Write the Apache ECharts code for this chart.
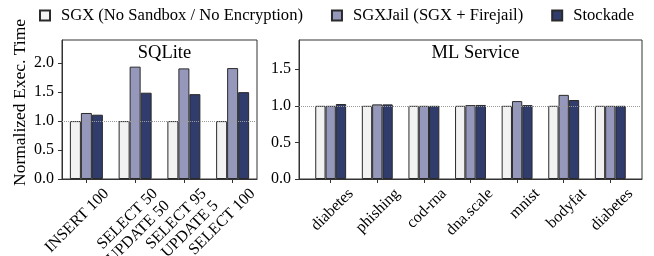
<!DOCTYPE html>
<html><head><meta charset="utf-8">
<script src="https://cdn.jsdelivr.net/npm/echarts@6/dist/echarts.min.js"></script>
<style>html,body{margin:0;padding:0;background:#fff}#c{width:654px;height:256px}</style>
</head><body><div id="c"></div>
<script>
const sqlCategories = ['INSERT 100', 'SELECT 50\nUPDATE 50', 'SELECT 95\nUPDATE 5', 'SELECT 100'];
const sqlSGX = [1.0, 1.0, 1.0, 1.0];
const sqlJail = [1.14, 1.94, 1.91, 1.915];
const sqlStockade = [1.11, 1.49, 1.465, 1.5];

const mlCategories = ['diabetes', 'phishing', 'cod-rna', 'dna.scale', 'mnist', 'bodyfat', 'diabetes'];
const mlSGX = [1.0, 1.0, 1.0, 1.0, 1.0, 1.0, 1.0];
const mlJail = [1.0, 1.02, 1.0, 1.01, 1.065, 1.15, 1.0];
const mlStockade = [1.025, 1.02, 1.0, 1.012, 1.01, 1.08, 1.0];

const sqlYTicks = [0, 0.5, 1.0, 1.5, 2.0];
const mlYTicks = [0, 0.5, 1.0, 1.5];

const seriesNames = ['SGX (No Sandbox / No Encryption)', 'SGXJail (SGX + Firejail)', 'Stockade'];
const colors = ['#f2f2f2', '#9598bb', '#2f3c6c'];

const FONT = 'Liberation Serif';
const chart = echarts.init(document.getElementById('c'), null, {renderer: 'canvas'});

const mlIdx = mlCategories.map((_, i) => i);
const pair = arr => arr.map((v, i) => [i, v]);

function yAxis(gi, max, ticks, withName) {
  return {
    type: 'value', gridIndex: gi, min: 0, max: max,
    name: withName ? 'Normalized Exec. Time' : '',
    nameLocation: 'middle', nameGap: 33,
    nameTextStyle: {fontFamily: FONT, fontSize: 17.5, color: '#000', padding: [0, 0, 0, 14]},
    axisLine: {show: true, onZero: false, lineStyle: {color: '#333'}},
    axisTick: {show: true, length: 4, customValues: ticks, lineStyle: {color: '#333'}},
    axisLabel: {customValues: ticks, formatter: v => v.toFixed(1), fontFamily: FONT, fontSize: 16, color: '#000', margin: 8},
    splitLine: {show: false}
  };
}
const xLabel = {rotate: 45, interval: 0, fontFamily: FONT, fontSize: 16, color: '#000',
  margin: 2, lineHeight: 17, verticalAlign: 'top', padding: [13, -7, 0, 0]};
const xAxes = [
  {
    type: 'category', gridIndex: 0, data: sqlCategories,
    axisLine: {show: true, onZero: false, lineStyle: {color: '#333'}},
    axisTick: {show: true, alignWithLabel: true, length: 4, lineStyle: {color: '#333'}},
    axisLabel: xLabel
  },
  {
    type: 'value', gridIndex: 1, min: -0.68, max: mlCategories.length - 1 + 0.68,
    axisLine: {show: true, onZero: false, lineStyle: {color: '#333'}},
    axisTick: {show: true, length: 4, customValues: mlIdx, lineStyle: {color: '#333'}},
    axisLabel: Object.assign({}, xLabel, {customValues: mlIdx, formatter: v => mlCategories[Math.round(v)]}),
    splitLine: {show: false}
  }
];
function bar(name, data, xi, color, bw, mark) {
  const s = {
    name: name, type: 'bar', xAxisIndex: xi, yAxisIndex: xi, data: data,
    barWidth: bw, barGap: '0%',
    itemStyle: {color: color, borderColor: '#2a2a2a', borderWidth: 1},
    emphasis: {disabled: true}, animation: false
  };
  if (mark) {
    s.markLine = {silent: true, symbol: 'none', label: {show: false},
      lineStyle: {type: 'dotted', color: '#999', width: 1}, data: [{yAxis: 1}]};
  }
  return s;
}

chart.setOption({
  animation: false,
  legend: {
    top: 2, left: 34, itemWidth: 10, itemHeight: 10, itemGap: 28,
    icon: 'rect',
    textStyle: {fontFamily: FONT, fontSize: 16.6, color: '#000', padding: [0, 0, 0, 6]},
    data: seriesNames
  },
  title: [
    {text: 'SQLite', left: 159.5, top: 39, textAlign: 'center',
      textStyle: {fontFamily: FONT, fontSize: 18.5, fontWeight: 'normal', color: '#000'}},
    {text: 'ML Service', left: 470.5, top: 39, textAlign: 'center',
      textStyle: {fontFamily: FONT, fontSize: 18.5, fontWeight: 'normal', color: '#000'}}
  ],
  grid: [
    {left: 62, right: 397, top: 40, bottom: 77, show: true, borderColor: '#333', borderWidth: 1,
      containLabel: false, outerBoundsMode: 'none'},
    {left: 299, right: 12, top: 40, bottom: 77, show: true, borderColor: '#333', borderWidth: 1,
      containLabel: false, outerBoundsMode: 'none'}
  ],
  xAxis: xAxes,
  yAxis: [yAxis(0, 2.4, sqlYTicks, true), yAxis(1, 1.9, mlYTicks, false)],
  series: [
    bar(seriesNames[0], sqlSGX, 0, colors[0], 11, true),
    bar(seriesNames[1], sqlJail, 0, colors[1], 11, false),
    bar(seriesNames[2], sqlStockade, 0, colors[2], 11, false),
    bar(seriesNames[0], pair(mlSGX), 1, colors[0], 10.3, true),
    bar(seriesNames[1], pair(mlJail), 1, colors[1], 10.3, false),
    bar(seriesNames[2], pair(mlStockade), 1, colors[2], 10.3, false)
  ]
});
</script></body></html>
